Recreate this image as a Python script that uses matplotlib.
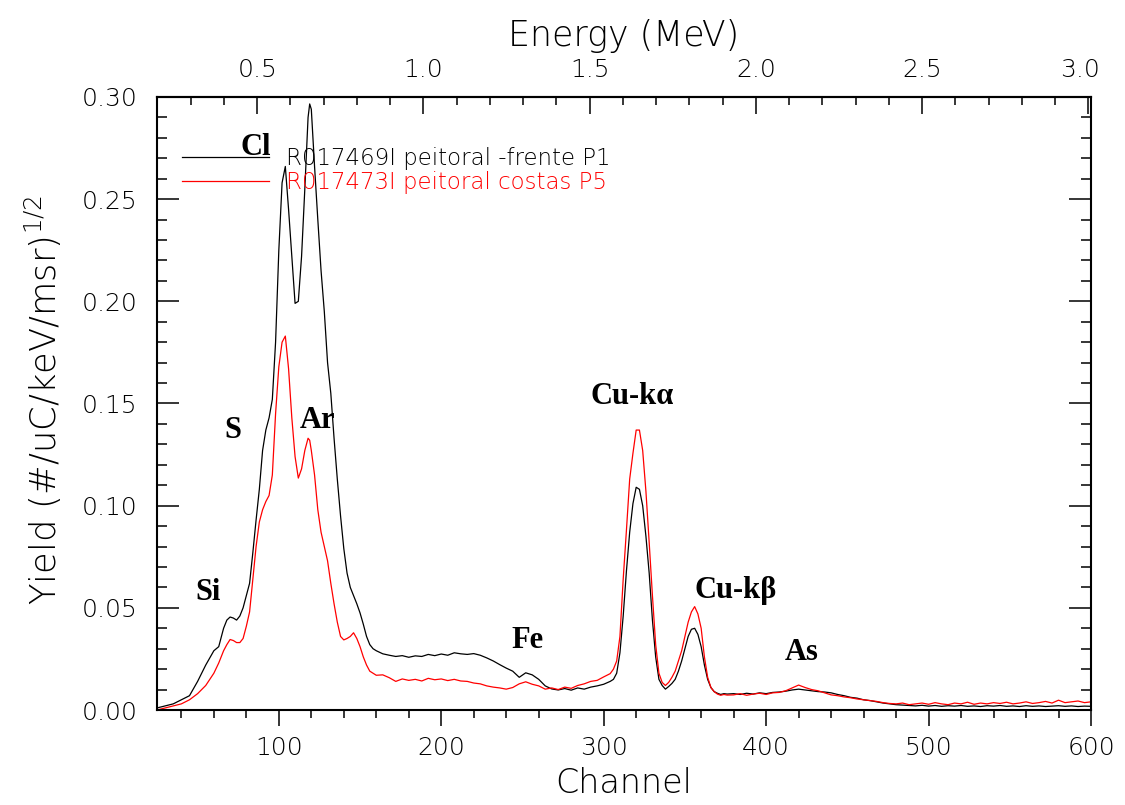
import matplotlib
matplotlib.use("Agg")
import matplotlib.pyplot as plt
from matplotlib.ticker import MultipleLocator
from matplotlib.transforms import ScaledTranslation

# ---------------- data ----------------
channel = [25, 30, 35, 40, 45, 50, 55, 60, 63, 66, 68, 70, 72, 74, 76, 78, 80, 82, 84, 86,
           88, 90, 92, 94, 96, 98, 100, 102, 104, 106, 108, 110, 112, 114, 116, 118, 119, 120,
           122, 124, 126, 128, 130, 132, 134, 136, 138, 140, 142, 144, 146, 148, 150, 152,
           154, 156, 158, 160,
           164, 168, 172, 176, 180, 184, 188, 192, 196, 200, 204, 208, 212, 216, 220, 224,
           228, 232, 236, 240, 244, 248, 252, 256, 260, 264, 268, 272, 276, 280, 284, 288,
           292, 296, 300, 304,
           306, 308, 310, 312, 314, 316, 318, 320, 322, 324, 326, 328, 330, 332, 334, 336,
           338, 340, 342, 344, 346, 348, 350, 352, 354, 356, 358, 360, 362, 364, 366, 368,
           370, 372, 374, 376,
           380, 384, 388, 392, 396, 400, 404, 408, 412, 416, 420, 424, 428, 432, 436, 440,
           444, 448, 452, 456, 460, 464, 468, 472, 476, 480, 484, 488, 492, 496, 500, 504,
           508, 512, 516, 520, 524, 528, 532, 536, 540, 544, 548, 552, 556, 560, 564, 568,
           572, 576, 580, 584, 588, 592, 596, 600]

yield_p1 = [0.001, 0.002, 0.003, 0.005, 0.007, 0.014, 0.022, 0.029, 0.031, 0.040, 0.044, 0.0455,
            0.045, 0.044, 0.046, 0.050, 0.056, 0.062, 0.077, 0.093, 0.108, 0.127, 0.137, 0.143,
            0.152, 0.180, 0.225, 0.258, 0.266, 0.245, 0.222, 0.199, 0.200, 0.222, 0.255, 0.290,
            0.2966, 0.294, 0.266, 0.240, 0.215, 0.195, 0.170, 0.155, 0.133, 0.113, 0.095, 0.079,
            0.067, 0.060, 0.056, 0.052, 0.0475, 0.042, 0.036, 0.032, 0.030, 0.029,
            0.0275, 0.0268, 0.0262, 0.0266, 0.0258, 0.0265, 0.0262, 0.0272, 0.0266, 0.0274,
            0.0268, 0.0280, 0.0275, 0.0272, 0.0276, 0.0268, 0.0255, 0.0240, 0.0222, 0.0205,
            0.0190, 0.0160, 0.0182, 0.0172, 0.0150, 0.0118, 0.0103, 0.0098, 0.0105, 0.0097,
            0.0108, 0.0102, 0.0112, 0.0118, 0.0126, 0.0140,
            0.015, 0.018, 0.028, 0.046, 0.068, 0.087, 0.101, 0.109, 0.108, 0.100, 0.085, 0.067,
            0.044, 0.026, 0.015, 0.012, 0.0102, 0.0115, 0.013, 0.015, 0.019, 0.024, 0.030,
            0.036, 0.0395, 0.040, 0.037, 0.031, 0.022, 0.015, 0.011, 0.009, 0.0082, 0.0076,
            0.0080, 0.0078,
            0.0080, 0.0076, 0.0082, 0.0078, 0.0084, 0.0080, 0.0086, 0.0088, 0.0092, 0.0098,
            0.0102, 0.0098, 0.0094, 0.0090, 0.0088, 0.0084, 0.0076, 0.0070, 0.0062, 0.0058,
            0.0050, 0.0046, 0.0040, 0.0034, 0.0030, 0.0026, 0.0024, 0.0022, 0.0020, 0.0023,
            0.0019, 0.0022, 0.0018, 0.0021, 0.0019, 0.0022, 0.0018, 0.0020, 0.0017, 0.0021,
            0.0019, 0.0022, 0.0018, 0.0020, 0.0017, 0.0021, 0.0018, 0.0020, 0.0017, 0.0019,
            0.0021, 0.0018, 0.0020, 0.0017, 0.0019, 0.0018]

yield_p5 = [0.000, 0.001, 0.002, 0.003, 0.005, 0.008, 0.012, 0.018, 0.023, 0.029, 0.032, 0.0345,
            0.034, 0.033, 0.033, 0.035, 0.041, 0.048, 0.064, 0.080, 0.092, 0.098, 0.102, 0.105,
            0.115, 0.145, 0.168, 0.180, 0.183, 0.167, 0.143, 0.124, 0.1135, 0.118, 0.127, 0.133,
            0.132, 0.127, 0.115, 0.098, 0.087, 0.080, 0.073, 0.062, 0.052, 0.043, 0.036, 0.0343,
            0.035, 0.036, 0.0378, 0.035, 0.031, 0.026, 0.022, 0.019, 0.018, 0.017,
            0.0172, 0.0158, 0.0140, 0.0152, 0.0145, 0.0150, 0.0142, 0.0155, 0.0148, 0.0152,
            0.0144, 0.0150, 0.0142, 0.0140, 0.0132, 0.0128, 0.0118, 0.0112, 0.0108, 0.0102,
            0.0110, 0.0128, 0.0138, 0.0126, 0.0118, 0.0102, 0.0108, 0.0100, 0.0112, 0.0106,
            0.0120, 0.0128, 0.0140, 0.0145, 0.0162, 0.0178,
            0.020, 0.024, 0.036, 0.064, 0.088, 0.113, 0.1256, 0.137, 0.137, 0.127, 0.107, 0.082,
            0.056, 0.032, 0.018, 0.0135, 0.012, 0.0135, 0.016, 0.019, 0.024, 0.029, 0.036,
            0.043, 0.048, 0.0506, 0.047, 0.040, 0.026, 0.016, 0.011, 0.009, 0.0078, 0.0072,
            0.0076, 0.0073,
            0.0074, 0.0080, 0.0072, 0.0078, 0.0082, 0.0076, 0.0084, 0.0086, 0.0094, 0.0108,
            0.0122, 0.0110, 0.0100, 0.0094, 0.0084, 0.0074, 0.0070, 0.0064, 0.0060, 0.0054,
            0.0050, 0.0046, 0.0042, 0.0036, 0.0032, 0.0030, 0.0034, 0.0026, 0.0030, 0.0034,
            0.0028, 0.0036, 0.0030, 0.0026, 0.0034, 0.0030, 0.0038, 0.0028, 0.0034, 0.0030,
            0.0036, 0.0032, 0.0038, 0.0030, 0.0034, 0.0040, 0.0032, 0.0036, 0.0042, 0.0034,
            0.0048, 0.0036, 0.0040, 0.0044, 0.0036, 0.0040]

series_labels = ["R017469I peitoral -frente P1", "R017473I peitoral costas P5"]
series_colors = ["black", "#ff0000"]

peak_names = ["Cl", "S", "Ar", "Si", "Fe", "Cu-k\u03b1", "Cu-k\u03b2", "As"]
peak_x = [85.8, 71.7, 124.0, 56.3, 253.0, 317.8, 381.0, 421.8]
peak_y = [0.2717, 0.1331, 0.1380, 0.0538, 0.0303, 0.1498, 0.0548, 0.0245]

# energy calibration (MeV per channel)
E_SLOPE = 0.004886
E_OFFSET = 0.0766

# ---------------- figure ----------------
plt.rcParams['font.family'] = ['DejaVu Sans']
plt.rcParams['mathtext.default'] = 'regular'
LIGHT = 'light'

fig = plt.figure(figsize=(11.25, 8.05), dpi=100)
ax = fig.add_axes([157 / 1125, 95 / 805, 934 / 1125, 613 / 805])

ax.plot(channel, yield_p1, color=series_colors[0], lw=0.9, label=series_labels[0])
ax.plot(channel, yield_p5, color=series_colors[1], lw=0.9, label=series_labels[1])

ax.set_xlim(25, 600)
ax.set_ylim(0, 0.30)

for s in ax.spines.values():
    s.set_linewidth(1.5)

ax.xaxis.set_major_locator(MultipleLocator(100))
ax.xaxis.set_minor_locator(MultipleLocator(20))
ax.yaxis.set_major_locator(MultipleLocator(0.05))
ax.yaxis.set_minor_locator(MultipleLocator(0.01))
ax.yaxis.set_major_formatter(plt.FuncFormatter(lambda v, p: f"{v:.2f}"))

ax.tick_params(axis='x', which='both', direction='out', top=False, bottom=True,
               labelsize=18, width=1.1, pad=7)
ax.tick_params(axis='x', which='major', length=11.5)
ax.tick_params(axis='x', which='minor', length=5.8)
ax.tick_params(axis='y', which='both', direction='in', left=True, right=True,
               labelsize=18, width=1.1, pad=14)
ax.tick_params(axis='y', which='major', length=15.6)
ax.tick_params(axis='y', which='minor', length=7.2)
for lab in ax.get_xticklabels() + ax.get_yticklabels():
    lab.set_fontweight(LIGHT)

sec = ax.secondary_xaxis('top', functions=(lambda c: E_SLOPE * c + E_OFFSET,
                                           lambda e: (e - E_OFFSET) / E_SLOPE))
sec.xaxis.set_major_locator(MultipleLocator(0.5))
sec.xaxis.set_minor_locator(MultipleLocator(0.1))
sec.xaxis.set_major_formatter(plt.FuncFormatter(lambda v, p: f"{v:.1f}"))
sec.tick_params(axis='x', which='both', direction='in', labelsize=18, width=1.1, pad=11)
sec.tick_params(axis='x', which='major', length=12)
sec.tick_params(axis='x', which='minor', length=6)
sec.spines['top'].set_linewidth(1.5)
sec.set_xlabel("Energy (MeV)", fontsize=25, fontweight=LIGHT)
sec.xaxis.set_label_coords(0.5, 1.083, transform=ax.transAxes)

ax.set_xlabel("Channel", fontsize=24, fontweight=LIGHT)
ax.xaxis.set_label_coords(0.5, -0.093)
ax.set_ylabel(r"Yield (#/uC/keV/msr)$^{1/2}$", fontsize=25.5, fontweight=LIGHT)
ax.yaxis.set_label_coords(-0.100, 0.506)

leg = ax.legend(loc='upper left', bbox_to_anchor=(0.0268, 0.918), frameon=False,
                fontsize=16.5, handlelength=3.8, handletextpad=0.75, labelspacing=0.05,
                borderpad=0, borderaxespad=0, labelcolor='linecolor')
for t in leg.get_texts():
    t.set_fontweight(LIGHT)

for name, px, py in zip(peak_names, peak_x, peak_y):
    ax.text(px, py, name, ha='center', va='baseline', fontsize=22,
            family=['Liberation Serif', 'DejaVu Serif'], fontweight='bold')

# the last energy label sits slightly inside the frame, as in the reference
fig.canvas.draw()
for tick in sec.xaxis.get_major_ticks():
    tick.label2.set_fontweight(LIGHT)
    if tick.label2.get_text() == "3.0":
        tick.label2.set_transform(tick.label2.get_transform()
                                  + ScaledTranslation(-0.08, 0, fig.dpi_scale_trans))

fig.savefig("out.png", dpi=100)
